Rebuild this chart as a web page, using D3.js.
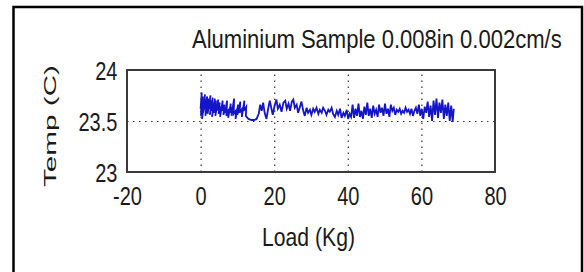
<!DOCTYPE html>
<html>
<head>
<meta charset="utf-8">
<script src="https://cdn.jsdelivr.net/npm/d3@7"></script>
<style>
  body { margin: 0; background: #fff; }
  svg { display: block; }
  .lbl { font-family: "Liberation Sans", Arial, Helvetica, sans-serif; font-size: 25px; fill: #1a1a1a; }
  .grid line { stroke: #333; stroke-width: 1.2; stroke-dasharray: 1.5,4.5; }
  .grid path { display: none; }
</style>
</head>
<body>
<svg id="chart"></svg>
<script>
document.addEventListener("DOMContentLoaded", function () {
  const title = "Aluminium Sample 0.008in 0.002cm/s";
  const xTicks = [-20, 0, 20, 40, 60, 80];
  const yTicks = [23, 23.5, 24];

  // load (Kg)
  const load = [
    0.0, 0.3, 0.1, 0.6, 0.2, 0.9, 0.4, 1.2, 0.7, 1.5, 1.0, 1.8, 1.3, 2.1, 1.6, 2.4, 1.9, 2.7, 2.2, 3.0,
    2.5, 3.3, 2.8, 3.6, 3.1, 3.9, 3.4, 4.2, 3.7, 4.5, 4.0, 4.8, 4.4, 5.2, 4.9, 5.6, 5.3, 6.0, 5.8, 6.4,
    6.2, 6.8, 6.6, 7.2, 7.0, 7.7, 7.5, 8.2, 8.0, 8.6, 8.4, 9.1, 9.0, 9.6, 9.5, 10.2, 10.0, 10.8, 10.6, 11.3,
    11.2, 11.9, 11.7, 12.4, 12.3, 13.0, 13.8, 14.5, 15.2, 15.8, 16.2, 16.6, 17.0, 17.4, 17.9, 18.3, 18.8, 19.2, 19.6, 20.1,
    20.6, 21.0, 21.5, 22.0, 22.5, 23.0, 23.4, 23.9, 24.3, 24.8, 25.2, 25.6, 26.1, 26.5, 27.0, 27.4, 27.9, 28.3, 28.8, 29.2,
    29.7, 30.1, 30.6, 31.0, 31.5, 32.0, 32.4, 32.9, 33.3, 33.8, 34.2, 34.7, 35.1, 35.6, 36.0, 36.5, 37.0, 37.4, 37.9, 38.3,
    38.8, 39.2, 39.7, 40.1, 40.5, 40.9, 41.3, 41.7, 42.1, 42.5, 42.9, 43.3, 43.7, 44.1, 44.5, 44.9, 45.3, 45.7, 46.1, 46.5,
    46.9, 47.3, 47.7, 48.1, 48.5, 48.9, 49.3, 49.7, 50.1, 50.5, 50.9, 51.3, 51.7, 52.1, 52.5, 52.9, 53.3, 53.7, 54.1, 54.5,
    54.9, 55.3, 55.7, 56.1, 56.5, 56.9, 57.3, 57.7, 58.1, 58.5, 58.9, 59.3, 59.7, 60.1, 60.5, 60.9, 61.3, 61.7, 62.1, 62.5,
    62.9, 63.3, 63.7, 64.1, 64.5, 64.9, 65.3, 65.7, 66.1, 66.5, 66.9, 67.3, 67.7, 68.1, 68.5, 68.8
  ];
  // temperature (C)
  const temp = [
    23.62, 23.78, 23.55, 23.74, 23.60, 23.71, 23.52, 23.76, 23.58, 23.70, 23.63, 23.74, 23.55, 23.72, 23.61, 23.69, 23.57, 23.75, 23.62, 23.70,
    23.56, 23.73, 23.60, 23.68, 23.54, 23.72, 23.62, 23.70, 23.58, 23.66, 23.55, 23.71, 23.60, 23.68, 23.57, 23.64, 23.54, 23.70, 23.60, 23.66,
    23.56, 23.63, 23.58, 23.70, 23.55, 23.62, 23.53, 23.67, 23.58, 23.64, 23.55, 23.72, 23.57, 23.60, 23.52, 23.66, 23.56, 23.69, 23.58, 23.62,
    23.54, 23.70, 23.60, 23.64, 23.55, 23.52, 23.51, 23.51, 23.52, 23.57, 23.66, 23.60, 23.68, 23.58, 23.52, 23.61, 23.70, 23.63, 23.56, 23.65,
    23.71, 23.62, 23.66, 23.59, 23.68, 23.70, 23.62, 23.67, 23.60, 23.69, 23.71, 23.63, 23.66, 23.58, 23.64, 23.69, 23.60, 23.55, 23.63, 23.58,
    23.61, 23.56, 23.62, 23.59, 23.63, 23.57, 23.61, 23.58, 23.63, 23.60, 23.56, 23.61, 23.59, 23.63, 23.57, 23.54, 23.60, 23.56, 23.62, 23.53,
    23.58, 23.55, 23.61, 23.52, 23.57, 23.54, 23.66, 23.53, 23.62, 23.55, 23.67, 23.54, 23.60, 23.52, 23.64, 23.56, 23.68, 23.55, 23.62, 23.53,
    23.65, 23.57, 23.61, 23.54, 23.66, 23.58, 23.63, 23.55, 23.67, 23.57, 23.62, 23.54, 23.66, 23.60, 23.63, 23.56, 23.61, 23.59, 23.62, 23.57,
    23.60, 23.58, 23.63, 23.59, 23.61, 23.57, 23.62, 23.55, 23.60, 23.63, 23.57, 23.66, 23.55, 23.62, 23.52, 23.64, 23.58, 23.69, 23.54, 23.65,
    23.50, 23.70, 23.56, 23.72, 23.53, 23.68, 23.58, 23.71, 23.52, 23.66, 23.55, 23.68, 23.50, 23.65, 23.49, 23.62
  ];

  const data = load.map((x, i) => ({ x: x, y: temp[i] }));

  const width = 584;
  const height = 272;
  const margin = { top: 70, right: 89, bottom: 100, left: 127 };

  const svg = d3.select("#chart").attr("width", width).attr("height", height);

  // outer frame (only left, top, right visible)
  svg.append("path")
    .attr("d", "M13.5,272 V7 H582 V272")
    .attr("fill", "none")
    .attr("stroke", "#000")
    .attr("stroke-width", 2.5);

  const xScale = d3.scaleLinear()
    .domain([-20, 80])
    .range([margin.left, width - margin.right]);

  const yScale = d3.scaleLinear()
    .domain([23, 24])
    .range([height - margin.bottom, margin.top]);

  const plotH = yScale(23) - yScale(24);
  const plotW = xScale(80) - xScale(-20);

  // grid
  svg.append("g")
    .attr("class", "grid")
    .attr("transform", `translate(0,${yScale(23)})`)
    .call(d3.axisBottom(xScale).tickValues([0, 20, 40, 60]).tickSize(-plotH).tickFormat(""));

  svg.append("g")
    .attr("class", "grid")
    .attr("transform", `translate(${xScale(-20)},0)`)
    .call(d3.axisLeft(yScale).tickValues([23.5]).tickSize(-plotW).tickFormat(""));

  // data line
  const line = d3.line()
    .x((d) => xScale(d.x))
    .y((d) => yScale(d.y));

  svg.append("path")
    .datum(data)
    .attr("d", line)
    .attr("fill", "none")
    .attr("stroke", "#1515c8")
    .attr("stroke-width", 1.8)
    .attr("stroke-linejoin", "miter");

  // plot box
  svg.append("rect")
    .attr("x", xScale(-20))
    .attr("y", yScale(24))
    .attr("width", plotW)
    .attr("height", plotH)
    .attr("fill", "none")
    .attr("stroke", "#3a3a3a")
    .attr("stroke-width", 2);

  // tick labels through axes, narrowed like the original
  const xAxis = svg.append("g")
    .attr("transform", `translate(0,${yScale(23)})`)
    .call(d3.axisBottom(xScale).tickValues(xTicks).tickSize(0).tickPadding(15).tickFormat((d) => String(d)));
  xAxis.select(".domain").remove();
  xAxis.selectAll("text")
    .attr("class", "lbl")
    .attr("dy", "0.71em")
    .attr("transform", "scale(0.8,1)");

  const yAxis = svg.append("g")
    .attr("transform", `translate(${xScale(-20)},0)`)
    .call(d3.axisLeft(yScale).tickValues(yTicks).tickSize(0).tickPadding(12).tickFormat((d) => String(d)));
  yAxis.select(".domain").remove();
  yAxis.selectAll("text")
    .attr("class", "lbl")
    .attr("dy", "0.36em")
    .attr("transform", "scale(0.8,1)");

  // squeeze a text horizontally so it spans the given width
  function fitText(x, y, w, str) {
    const t = svg.append("text").attr("class", "lbl").text(str);
    const natural = t.node().getComputedTextLength();
    t.attr("transform", `translate(${x},${y}) scale(${w / natural},1)`);
    return t;
  }

  fitText(192, 48, 370, title);
  fitText(262, 246, 93, "Load (Kg)");

  // y label
  svg.append("text")
    .attr("transform", "rotate(-90)")
    .attr("x", -187)
    .attr("y", 56)
    .attr("textLength", 122)
    .attr("lengthAdjust", "spacingAndGlyphs")
    .style("font-family", "'Liberation Sans', Arial, sans-serif")
    .style("font-size", "17px")
    .style("fill", "#1a1a1a")
    .text("Temp (C)");
});
</script>
</body>
</html>
